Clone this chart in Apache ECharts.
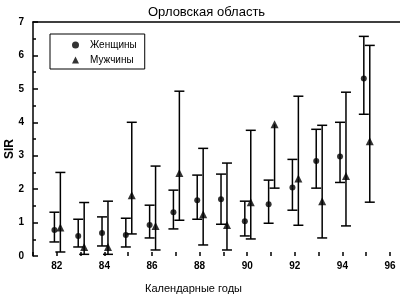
<!DOCTYPE html>
<html>
<head>
<meta charset="utf-8">
<script src="https://cdn.jsdelivr.net/npm/echarts@6/dist/echarts.min.js"></script>
<style>
  html, body { margin: 0; padding: 0; background: #fff; }
  #chart { width: 400px; height: 294px; }
</style>
</head>
<body>
<div id="chart"></div>
<script>
// SIR by calendar year, with confidence limits (null = not readable in the source)
const years = [82, 83, 84, 85, 86, 87, 88, 89, 90, 91, 92, 93, 94, 95];

const womenSIR  = [0.78, 0.60, 0.69, 0.63, 0.93, 1.31, 1.67, 1.70, 1.04, 1.55, 2.05, 2.84, 2.98, 5.31];
const womenLow  = [0.42, 0.27, 0.30, 0.27, 0.54, 0.81, 1.10, 0.95, 0.60, 0.98, 1.37, 2.03, 2.20, 4.24];
const womenHigh = [1.31, 1.10, 1.17, 1.13, 1.52, 1.97, 2.42, 2.45, 1.64, 2.27, 2.89, 3.79, 4.00, 6.57];

const menSIR  = [0.85, 0.27, 0.27, 1.82, 0.90, 2.48, 1.25, 0.93, 1.61, 3.94, 2.32, 1.64, 2.39, 3.43];
const menLow  = [0.12, 0.05, 0.05, 0.66, 0.18, 1.07, 0.33, 0.18, 0.51, 2.03, 0.92, 0.54, 0.90, 1.61];
const menHigh = [2.50, 1.60, 1.64, 4.00, 2.69, 4.93, 3.22, 2.78, 3.76, null, 4.78, 3.91, 4.90, 6.30];

const WOMEN_SHIFT = -0.1;
const MEN_SHIFT = 0.15;
const INK = '#000';
const FONT = 'Liberation Sans, Arial, sans-serif';

const chart = echarts.init(document.getElementById('chart'));

function errorData(shift, sir, low, high) {
  return years.map((y, i) => [y + shift, sir[i], low[i], high[i]]);
}

function renderErrorBar(params, api) {
  const x = api.value(0);
  const mid = api.coord([x, api.value(1)]);
  const children = [];
  const cap = 5;
  const style = { stroke: INK, lineWidth: 1.5 };
  [2, 3].forEach(k => {
    const v = api.value(k);
    if (v == null || isNaN(v)) return;
    const p = api.coord([x, v]);
    children.push({ type: 'line', shape: { x1: mid[0], y1: mid[1], x2: p[0], y2: p[1] }, style });
    children.push({ type: 'line', shape: { x1: p[0] - cap, y1: p[1], x2: p[0] + cap, y2: p[1] }, style });
  });
  return { type: 'group', children };
}

chart.setOption({
  animation: false,
  backgroundColor: '#fff',
  title: {
    text: 'Орловская область',
    left: 143,
    top: 1,
    textStyle: { fontFamily: FONT, fontSize: 13, fontWeight: 'normal', color: INK }
  },
  grid: { left: 33, right: 0, top: 22, bottom: 38, containLabel: false, outerBoundsMode: 'none' },
  legend: {
    orient: 'vertical',
    left: 50,
    top: 34,
    padding: [6, 8, 4, 22],
    itemGap: 5,
    itemWidth: 7,
    itemHeight: 7,
    borderColor: INK,
    borderWidth: 1,
    borderRadius: 0,
    textStyle: { fontFamily: FONT, fontSize: 10, color: INK, padding: [0, 0, 0, 6] },
    data: [
      { name: 'Женщины', icon: 'circle' },
      { name: 'Мужчины', icon: 'triangle' }
    ]
  },
  xAxis: [
    {
      type: 'value',
      min: 81,
      max: 96.42,
      interval: 1,
      axisLine: { show: false },
      axisTick: { inside: true, length: 4, lineStyle: { color: INK, width: 1.5 } },
      splitLine: { show: false },
      axisLabel: {
        fontFamily: FONT, fontSize: 10, fontWeight: 'bold', color: INK, margin: 5,
        showMaxLabel: false,
        formatter: v => (v % 2 === 0 ? String(v) : '')
      },
      name: 'Календарные годы',
      nameLocation: 'middle',
      nameGap: 27,
      nameMoveOverlap: false,
      nameTextStyle: { fontFamily: FONT, fontSize: 11, color: INK, padding: [0, 46, 0, 0] }
    },
    {
      type: 'value',
      position: 'top',
      min: 81,
      max: 96.42,
      axisLine: { show: true, lineStyle: { color: INK, width: 1.5 } },
      axisTick: { show: false },
      axisLabel: { show: false },
      splitLine: { show: false }
    }
  ],
  yAxis: {
    type: 'value',
    min: 0,
    max: 7,
    interval: 1,
    axisLine: { show: true, lineStyle: { color: INK, width: 1.5 } },
    axisTick: { inside: true, length: 5, lineStyle: { color: INK, width: 1.5 } },
    minorTick: { show: true, splitNumber: 2, length: 3, lineStyle: { color: INK, width: 1.5 } },
    splitLine: { show: false },
    axisLabel: { fontFamily: FONT, fontSize: 10, fontWeight: 'bold', color: INK, margin: 9 },
    name: 'SIR',
    nameLocation: 'middle',
    nameGap: 17,
    nameMoveOverlap: false,
    nameTextStyle: { fontFamily: FONT, fontSize: 12, fontWeight: 'bold', color: INK, padding: [0, 20, 0, 0] }
  },
  series: [
    {
      type: 'custom',
      name: 'Женщины-ci',
      clip: true,
      renderItem: renderErrorBar,
      data: errorData(WOMEN_SHIFT, womenSIR, womenLow, womenHigh),
      z: 1
    },
    {
      type: 'custom',
      name: 'Мужчины-ci',
      clip: true,
      renderItem: renderErrorBar,
      data: errorData(MEN_SHIFT, menSIR, menLow, menHigh),
      z: 1
    },
    {
      type: 'scatter',
      name: 'Женщины',
      symbol: 'circle',
      symbolSize: 6,
      itemStyle: { color: INK },
      data: years.map((y, i) => [y + WOMEN_SHIFT, womenSIR[i]]),
      z: 2
    },
    {
      type: 'scatter',
      name: 'Мужчины',
      symbol: 'triangle',
      symbolSize: 8,
      itemStyle: { color: INK },
      data: years.map((y, i) => [y + MEN_SHIFT, menSIR[i]]),
      z: 2
    }
  ]
});
</script>
</body>
</html>
